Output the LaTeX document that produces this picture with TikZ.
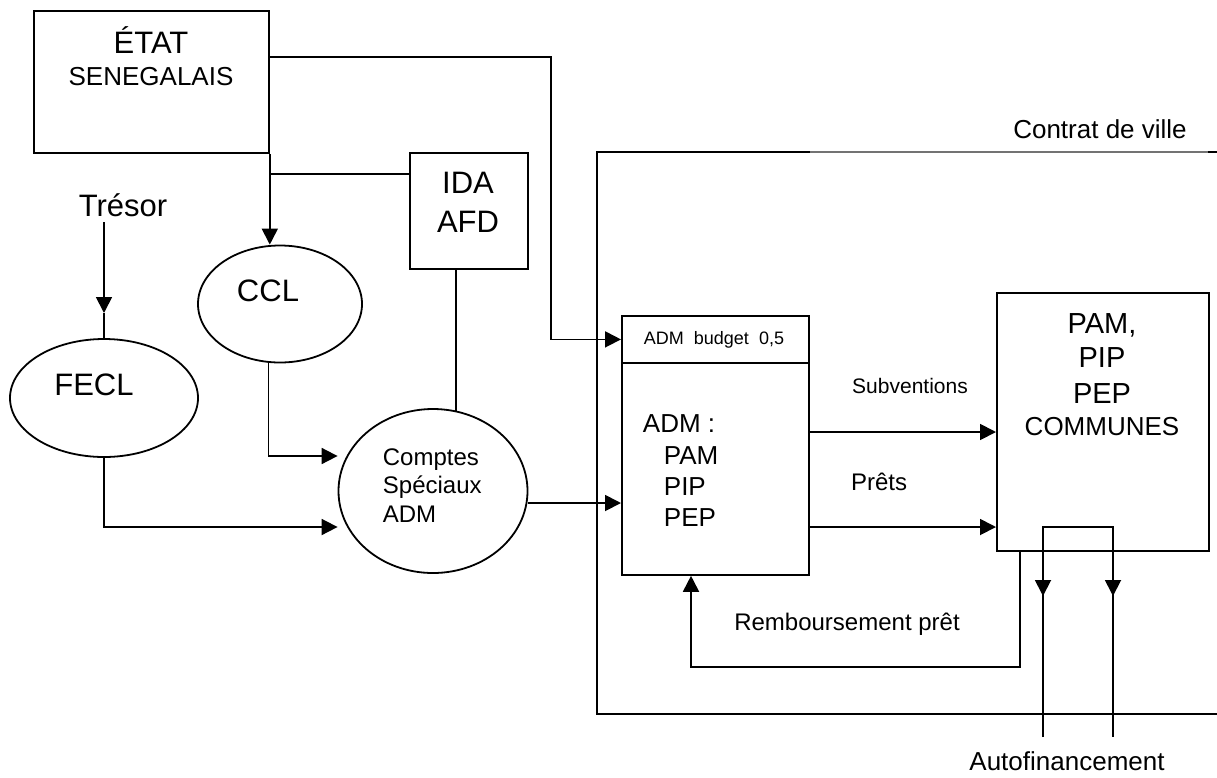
\documentclass[tikz,border=0pt]{standalone}
\usepackage{fontspec}
\setmainfont{Liberation Sans}
\usetikzlibrary{arrows.meta,shapes.geometric,calc}
\newcommand\fz[1]{\fontsize{#1pt}{#1pt}\selectfont}
\begin{document}
\begin{tikzpicture}[x=1pt,y=-1pt,line width=1.8pt,
  box/.style={draw, line width=1.8pt, inner sep=0pt, anchor=north west},
  oval/.style={draw, ellipse, line width=1.8pt, inner sep=0pt},
  arr/.style={-{Triangle[length=16pt,width=16pt]}},
  lbl/.style={inner sep=0pt, anchor=base},
  lbll/.style={inner sep=0pt, anchor=base west},
]
\useasboundingbox (0,0) rectangle (1217,777);

% frames and shapes
\node[box, minimum width=235pt, minimum height=142pt] (etat) at (33,10) {};
\node[box, minimum width=118pt, minimum height=116pt] (ida) at (409,152) {};
\node[oval, minimum width=164pt, minimum height=117pt] (ccl) at (280,304) {};
\node[oval, minimum width=188pt, minimum height=118pt] (fecl) at (104,398) {};
\node[oval, minimum width=189pt, minimum height=164pt] (comptes) at (433,491) {};
\node[box, minimum width=187pt, minimum height=47pt] (admh) at (621,315) {};
\node[box, minimum width=187pt, minimum height=212pt] (admb) at (621,362) {};
\node[box, minimum width=212pt, minimum height=258pt] (pam) at (996,292) {};

% contrat de ville frame
\coordinate (cvtl) at (597,152);
\coordinate (cvbl) at (597,714);
\draw (810,152) -- (cvtl) -- (cvbl) -- (1217,714);
\draw[line width=1.1pt, black!55] (810,152) -- (1208,152);
\draw (1208,152) -- (1217,152);

% texts
\node[lbl, font=\fz{31}] (t1) at (151,53) {ÉTAT};
\node[lbl, font=\fz{26}] (t2) at (151,85) {SENEGALAIS};
\node[lbl, font=\fz{31}] (tresor) at (123,216) {Trésor};
\node[lbl, font=\fz{31}] (t3) at (468,193) {IDA};
\node[lbl, font=\fz{31}] (t4) at (468,232) {AFD};
\node[lbl, font=\fz{31}] (t5) at (268,301) {CCL};
\node[lbl, font=\fz{31}] (t6) at (94,395) {FECL};
\node[lbll, font=\fz{24}] (t7) at (382,465) {Comptes};
\node[lbll, font=\fz{24}] (t8) at (382,493) {Spéciaux};
\node[lbll, font=\fz{24}] (t9) at (382,522) {ADM};
\node[lbl, font=\fz{18}] (t10) at (714,344) {ADM\ \ budget\ \ 0,5};
\node[lbll, font=\fz{26}] (t11) at (642,432) {ADM :};
\node[lbll, font=\fz{26}] (t12) at (663,464) {PAM};
\node[lbll, font=\fz{26}] (t13) at (663,495) {PIP};
\node[lbll, font=\fz{26}] (t14) at (663,526) {PEP};
\node[lbl, font=\fz{21}] (t15) at (910,393) {Subventions};
\node[lbl, font=\fz{24}] (t16) at (879,490) {Prêts};
\node[lbl, font=\fz{29}] (t17) at (1102,333) {PAM,};
\node[lbl, font=\fz{29}] (t18) at (1102,367) {PIP};
\node[lbl, font=\fz{29}] (t19) at (1102,403) {PEP};
\node[lbl, font=\fz{26}] (t20) at (1102,435) {COMMUNES};
\node[lbl, font=\fz{24}] (t21) at (847,630) {Remboursement prêt};
\node[lbl, font=\fz{26}] (t22) at (1100,138) {Contrat de ville};
\node[lbl, font=\fz{26}] (t23) at (1067,770) {Autofinancement};

% connectors
\coordinate (e1) at (551,57);
\draw[arr] (etat.east |- e1) -- (e1) |- (admh.west);
\draw[arr] (etat.south east) -- (etat.south east |- ccl.north);
\draw (etat.south east |- 0,174) -- (ida.west |- 0,174);
\draw (comptes.74 |- ida.south) -- (comptes.74);
\draw[arr] (ccl.259) |- ($(comptes.west)+(0,-35)$);
\draw[arr] (fecl.south) |- ($(comptes.west)+(0,36)$);
\coordinate (ts) at (104,222);
\coordinate (tm) at (104,313);
\draw[arr] (ts) -- (tm);
\draw (tm) -- (fecl.north);
\draw[arr] (comptes.east |- 0,503) -- (admb.west |- 0,503);
\draw[arr] (admb.east |- 0,432) -- (pam.west |- 0,432);
\draw[arr] (admb.east |- 0,527) -- (pam.west |- 0,527);
\coordinate (rb) at (691,667);
\draw[arr] ([xshift=24pt]pam.south west) |- (rb) -- (rb |- admb.south);
% autofinancement
\coordinate (af1) at (1043,737);
\coordinate (af2) at (1113,737);
\draw (af1) -- (1043,527) -- (1113,527) -- (af2);
\draw[arr] (1043,570) -- (1043,596);
\draw[arr] (1113,570) -- (1113,596);
\end{tikzpicture}
\end{document}
